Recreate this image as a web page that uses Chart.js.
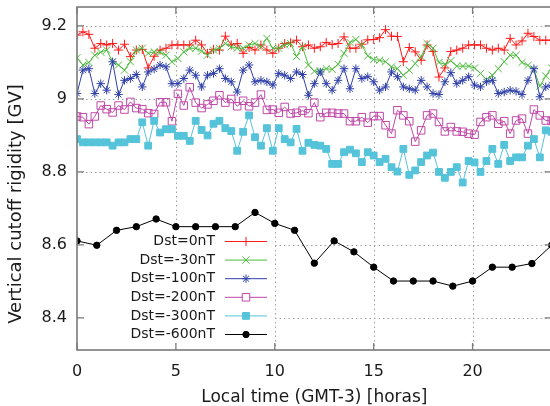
<!DOCTYPE html>
<html><head><meta charset="utf-8">
<script src="https://cdn.jsdelivr.net/npm/chart.js@4/dist/chart.umd.min.js"></script>
<style>html,body{margin:0;padding:0;background:#fff;overflow:hidden}</style>
</head><body>
<canvas id="c" width="558" height="406" style="display:block;width:558px;height:406px"></canvas>
<script>
// ---- data ----
const timeFine = [0,0.3,0.6,0.9,1.2,1.5,1.8,2.1,2.4,2.7,3,3.3,3.6,3.9,4.2,4.5,4.8,5.1,5.4,5.7,6,6.3,6.6,6.9,7.2,7.5,7.8,8.1,8.4,8.7,9,9.3,9.6,9.9,10.2,10.5,10.8,11.1,11.4,11.7,12,12.3,12.6,12.9,13.2,13.5,13.8,14.1,14.4,14.7,15,15.3,15.6,15.9,16.2,16.5,16.8,17.1,17.4,17.7,18,18.3,18.6,18.9,19.2,19.5,19.8,20.1,20.4,20.7,21,21.3,21.6,21.9,22.2,22.5,22.8,23.1,23.4,23.7,24];
const timeHourly = [0,1,2,3,4,5,6,7,8,9,10,11,12,13,14,15,16,17,18,19,20,21,22,23,24];
const dst0 = [9.175,9.184,9.177,9.139,9.152,9.148,9.152,9.134,9.15,9.116,
  9.134,9.136,9.085,9.117,9.134,9.139,9.148,9.148,9.148,9.148,
  9.161,9.148,9.125,9.136,9.134,9.172,9.148,9.152,9.125,9.141,
  9.134,9.148,9.134,9.125,9.139,9.152,9.154,9.161,9.143,9.148,
  9.139,9.143,9.155,9.149,9.152,9.17,9.139,9.139,9.15,9.162,
  9.163,9.168,9.19,9.172,9.171,9.102,9.141,9.129,9.106,9.148,
  9.13,9.06,9.085,9.13,9.134,9.139,9.148,9.148,9.148,9.139,
  9.134,9.139,9.134,9.166,9.148,9.159,9.18,9.171,9.161,9.161,9.161];
const dst30 = [9.113,9.093,9.1,9.12,9.128,9.134,9.102,9.093,9.079,9.102,
  9.134,9.139,9.125,9.129,9.128,9.12,9.102,9.111,9.129,9.139,
  9.139,9.131,9.12,9.134,9.139,9.152,9.143,9.139,9.139,9.148,
  9.152,9.143,9.166,9.139,9.139,9.148,9.152,9.116,9.143,9.093,
  9.076,9.077,9.083,9.081,9.095,9.125,9.155,9.163,9.148,9.118,
  9.108,9.106,9.102,9.088,9.083,9.065,9.079,9.097,9.116,9.152,
  9.139,9.1,9.095,9.105,9.09,9.09,9.09,9.085,9.07,9.053,
  9.065,9.083,9.102,9.12,9.12,9.1,9.092,9.08,9.035,9.063,9.085];
const dst100 = [9.015,9.079,9.083,9.015,9.042,9.024,9.102,9.012,9.051,9.056,
  9.067,9.033,9.074,9.082,9.093,9.088,9.042,9.042,9.056,9.079,
  9.065,9.033,9.065,9.07,9.083,9.056,9.047,9.019,9.079,9.093,
  9.047,9.051,9.047,9.038,9.07,9.065,9.056,9.074,9.067,9.01,
  9.042,9.074,9.042,9.024,9.051,9.083,9.028,9.083,9.056,9.061,
  9.047,9.024,9.033,9.074,9.061,9.033,9.028,9.024,9.051,9.033,
  9.015,9.012,9.047,9.072,9.042,9.051,9.061,9.038,9.033,9.047,
  9.051,9.015,9.019,9.024,9.021,9.012,9.051,9.083,9.006,9.033,9.038];
const dst200 = [8.952,8.95,8.931,8.952,8.982,8.972,8.963,8.982,8.971,8.992,
  8.975,8.972,8.961,8.959,8.991,8.991,8.939,9.014,8.982,9.032,
  8.99,8.975,8.985,8.995,9.01,8.99,9.0,8.98,8.995,8.98,
  8.99,9.012,8.97,8.971,8.962,8.978,8.96,8.962,8.968,8.961,
  8.99,8.95,8.962,8.962,8.96,8.96,8.939,8.939,8.95,8.935,
  8.953,8.953,8.928,8.905,8.969,8.955,8.939,8.883,8.914,8.955,
  8.96,8.937,8.911,8.923,8.911,8.91,8.905,8.902,8.937,8.95,
  8.955,8.932,8.939,8.905,8.941,8.946,8.905,8.971,8.955,8.941,8.94];
const dst300 = [8.89,8.881,8.881,8.881,8.881,8.881,8.872,8.881,8.881,8.89,
  8.89,8.936,8.872,8.94,8.908,8.917,8.917,8.899,8.899,8.885,
  8.94,8.915,8.9,8.932,8.94,8.92,8.912,8.858,8.91,8.955,
  8.895,8.872,8.92,8.858,8.92,8.89,8.881,8.918,8.858,8.88,
  8.874,8.872,8.863,8.822,8.822,8.854,8.861,8.851,8.827,8.854,
  8.845,8.827,8.836,8.813,8.801,8.863,8.792,8.804,8.827,8.845,
  8.853,8.8,8.784,8.8,8.813,8.771,8.83,8.826,8.8,8.83,
  8.863,8.822,8.874,8.83,8.84,8.84,8.872,8.89,8.84,8.914,8.91];
const dst600 = [8.611,8.599,8.64,8.65,8.671,8.65,8.65,8.65,8.65,8.689,8.659,8.64,8.55,8.611,8.581,8.539,8.501,8.501,8.501,8.487,8.501,8.539,8.539,8.549,8.599];
const seriesNames = ['Dst=0nT','Dst=-30nT','Dst=-100nT','Dst=-200nT','Dst=-300nT','Dst=-600nT'];
const xTicks = [0,5,10,15,20];
const yTicks = [8.4,8.6,8.8,9.0,9.2];

// ---- styles ----
const FONT = 'DejaVu Sans';
const TEXT = '#1a1a1a';
const styles = [
  {color:'#ff1a1a', ps:'cross', r:4.5, fill:'#ff1a1a'},
  {color:'#4cbb3c', ps:'crossRot', r:5, fill:'#4cbb3c'},
  {color:'#3040a8', ps:'star', r:4.2, fill:'#3040a8'},
  {color:'#c048a8', ps:'rect', r:5.3, fill:'rgba(0,0,0,0)'},
  {color:'#55c3d9', ps:'rect', r:4.8, fill:'#55c3d9'},
  {color:'#000000', ps:'circle', r:3.2, fill:'#000000'}
];
const seriesVals = [dst0,dst30,dst100,dst200,dst300,dst600];
const seriesX = [timeFine,timeFine,timeFine,timeFine,timeFine,timeHourly];

const datasets = seriesVals.map((vals,k)=>({
  label: seriesNames[k],
  data: vals.map((v,i)=>({x: seriesX[k][i], y: v})),
  borderColor: styles[k].color,
  backgroundColor: styles[k].fill,
  pointStyle: styles[k].ps,
  pointRadius: styles[k].r,
  pointBorderColor: styles[k].color,
  pointBackgroundColor: styles[k].fill,
  pointBorderWidth: 1,
  borderWidth: 1,
  tension: 0,
  fill: false,
  order: -k
}));

function drawMarker(ctx, ps, x, y, r, color, fill){
  ctx.save();
  ctx.strokeStyle = color; ctx.fillStyle = fill; ctx.lineWidth = 1;
  ctx.beginPath();
  const s = r*Math.SQRT1_2;
  if (ps==='cross'){ ctx.moveTo(x, y-r); ctx.lineTo(x, y+r); ctx.moveTo(x-r,y); ctx.lineTo(x+r,y); ctx.stroke(); }
  else if (ps==='crossRot'){ ctx.moveTo(x-s,y-s); ctx.lineTo(x+s,y+s); ctx.moveTo(x-s,y+s); ctx.lineTo(x+s,y-s); ctx.stroke(); }
  else if (ps==='star'){ ctx.moveTo(x, y-r); ctx.lineTo(x, y+r); ctx.moveTo(x-r,y); ctx.lineTo(x+r,y);
    ctx.moveTo(x-s,y-s); ctx.lineTo(x+s,y+s); ctx.moveTo(x-s,y+s); ctx.lineTo(x+s,y-s); ctx.stroke(); }
  else if (ps==='rect'){ ctx.rect(x-s,y-s,2*s,2*s); ctx.fill(); ctx.stroke(); }
  else { ctx.arc(x,y,r,0,Math.PI*2); ctx.fill(); ctx.stroke(); }
  ctx.restore();
}

const gnuFrame = {
  id: 'gnuFrame',
  beforeDatasetsDraw(chart){
    const {ctx, chartArea:a, scales:{x, y}} = chart;
    ctx.save();
    ctx.strokeStyle = '#a0a0a0'; ctx.lineWidth = 1; ctx.setLineDash([1.5,3]);
    xTicks.forEach(v=>{ if (v===0) return; const px = Math.round(x.getPixelForValue(v))+0.5;
      ctx.beginPath(); ctx.moveTo(px, a.top); ctx.lineTo(px, a.bottom); ctx.stroke(); });
    yTicks.forEach(v=>{ const py = Math.round(y.getPixelForValue(v))+0.5;
      ctx.beginPath(); ctx.moveTo(a.left, py); ctx.lineTo(a.right, py); ctx.stroke(); });
    ctx.setLineDash([]);
    // opaque key box
    ctx.fillStyle = '#ffffff';
    ctx.fillRect(a.left+1, 231, 274 - a.left, a.bottom - 232);
    ctx.restore();
  },
  afterDatasetsDraw(chart){
    const {ctx, chartArea:a, scales:{x, y}} = chart;
    ctx.save();
    ctx.strokeStyle = '#7a7a7a'; ctx.lineWidth = 1.6;
    ctx.strokeRect(a.left, a.top, a.right - a.left, a.bottom - a.top);
    ctx.lineWidth = 1.3;
    const tl = 7;
    xTicks.forEach(v=>{ const px = x.getPixelForValue(v);
      ctx.beginPath(); ctx.moveTo(px, a.bottom); ctx.lineTo(px, a.bottom - tl);
      ctx.moveTo(px, a.top); ctx.lineTo(px, a.top + tl); ctx.stroke(); });
    yTicks.forEach(v=>{ const py = y.getPixelForValue(v);
      ctx.beginPath(); ctx.moveTo(a.left, py); ctx.lineTo(a.left + tl, py);
      ctx.moveTo(a.right, py); ctx.lineTo(a.right - tl, py); ctx.stroke(); });
    // key
    ctx.font = '14px "' + FONT + '"';
    ctx.fillStyle = TEXT; ctx.textAlign = 'right'; ctx.textBaseline = 'middle';
    const rowY0 = 241.5, rowDy = 18.6;
    seriesNames.forEach((name,k)=>{
      const ry = rowY0 + k*rowDy;
      ctx.fillText(name, 215, ry);
      ctx.strokeStyle = styles[k].color; ctx.lineWidth = 1;
      ctx.beginPath(); ctx.moveTo(225, ry); ctx.lineTo(267, ry); ctx.stroke();
      drawMarker(ctx, styles[k].ps, 246, ry, styles[k].r, styles[k].color, k===3 ? '#ffffff' : styles[k].fill);
    });
    // axis titles
    ctx.font = '17px "' + FONT + '"';
    ctx.textAlign = 'center'; ctx.textBaseline = 'middle';
    ctx.fillText('Local time (GMT-3) [horas]', (a.left + a.right)/2, 398);
    ctx.font = '18px "' + FONT + '"';
    ctx.translate(16.5, 204); ctx.rotate(-Math.PI/2);
    ctx.fillText('Vertical cutoff rigidity [GV]', 0, 0);
    ctx.restore();
  }
};

new Chart(document.getElementById('c'), {
  type: 'line',
  data: { datasets },
  options: {
    responsive: false, animation: false,
    layout: { padding: { top: 7, right: 2, left: 0, bottom: 0 } },
    plugins: { legend: { display: false }, tooltip: { enabled: false } },
    scales: {
      x: {
        type: 'linear', min: 0, max: 24,
        afterBuildTicks: s => { s.ticks = xTicks.map(v => ({ value: v })); },
        afterFit: s => { s.height = 56; s.paddingLeft = 0; s.paddingRight = 0; },
        grid: { display: false, drawTicks: false }, border: { display: false },
        ticks: { color: TEXT, font: { family: FONT, size: 16 }, padding: 12, maxRotation: 0, autoSkip: false }
      },
      y: {
        type: 'linear', min: 8.312, max: 9.252,
        afterBuildTicks: s => { s.ticks = yTicks.map(v => ({ value: v })); },
        afterFit: s => { s.width = 77; s.paddingTop = 0; s.paddingBottom = 0; },
        grid: { display: false, drawTicks: false }, border: { display: false },
        ticks: { color: TEXT, font: { family: FONT, size: 16 }, padding: 10,
          callback: v => String(+Number(v).toFixed(1)) }
      }
    }
  },
  plugins: [gnuFrame]
});
</script>
</body></html>
